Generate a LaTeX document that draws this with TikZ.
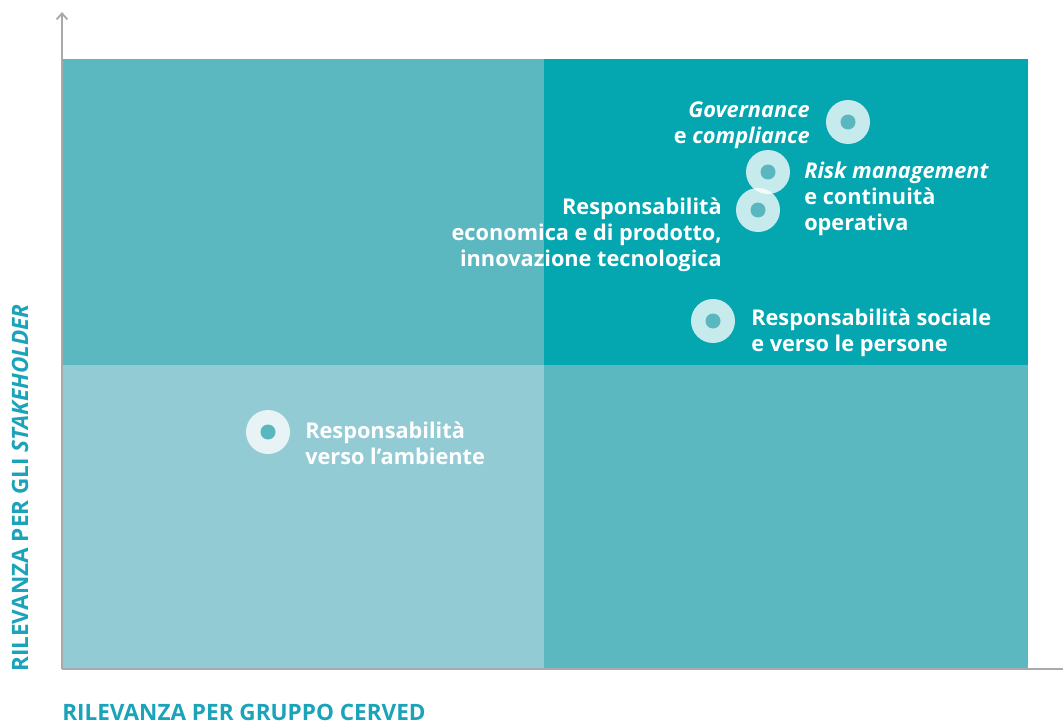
\documentclass[tikz,border=0pt]{standalone}
\usepackage{fontspec}
\setmainfont{Open Sans}
\usetikzlibrary{arrows.meta}
\definecolor{qTL}{HTML}{5BB7C0}
\definecolor{qTR}{HTML}{04A6B0}
\definecolor{qBL}{HTML}{93CBD4}
\definecolor{qBR}{HTML}{5BB7C0}
\definecolor{axisgray}{HTML}{A7A9AC}
\definecolor{axislabel}{HTML}{1BA3B9}
\definecolor{dotc}{HTML}{5BB7BF}
\newlength{\pxu}\setlength{\pxu}{0.75pt}
\tikzset{
  ring/.style={circle, fill=white, fill opacity=0.78, minimum size=44\pxu, inner sep=0pt},
  dot/.style={circle, fill=dotc, minimum size=15\pxu, inner sep=0pt},
  lab/.style={text=white, font=\fontsize{16.3}{19.5}\selectfont\bfseries, inner sep=0pt},
  axlab/.style={text=axislabel, font=\fontsize{16.9}{20}\selectfont\bfseries, inner sep=0pt},
  axisline/.style={draw=axisgray, line width=2pt},
}
\begin{document}
\begin{tikzpicture}[x=0.75pt, y=-0.75pt]
\useasboundingbox (0,0) rectangle (1063,724);
% quadrants
\fill[qTL] (62,59) rectangle (544,365);
\fill[qTR] (544,59) rectangle (1028,365);
\fill[qBL] (62,365) rectangle (544,669);
\fill[qBR] (544,365) rectangle (1028,669);
% axes
\coordinate (O) at (62,669);
\coordinate (Ytop) at (62,12);
\coordinate (Xend) at (1063,669);
\draw[axisline, -{Straight Barb[length=4.5pt, width=8pt, line width=1.4pt]}] (O) -- (Ytop);
\draw[axisline] (O) -- (Xend);
% axis labels
\node[axlab, anchor=base west] (xl) at (62,720) {RILEVANZA PER GRUPPO CERVED};
\node[axlab, anchor=base west, rotate=90] (yl) at (28,672) {RILEVANZA PER GLI \textit{STAKEHOLDER}};
% points
\node[ring] (g) at (848,122) {};
\node[dot] at (g) {};
\node[ring] (r) at (768,172) {};
\node[dot] at (r) {};
\node[ring] (e) at (758,210) {};
\node[dot] at (e) {};
\node[ring] (s) at (713,321) {};
\node[dot] at (s) {};
\node[ring] (a) at (268,432) {};
\node[dot] at (a) {};
% labels
\node[lab, align=right, anchor=north east] (gl) at (810,101) {\textit{Governance}\\e \textit{compliance}};
\node[lab, align=left, anchor=north west] (rl) at (804,162) {\textit{Risk management}\\e continuità\\operativa};
\node[lab, align=right, anchor=north east] (el) at (722,198) {Responsabilità\\economica e di prodotto,\\innovazione tecnologica};
\node[lab, align=left, anchor=north west] (sl) at (751,309) {Responsabilità sociale\\e verso le persone};
\node[lab, align=left, anchor=north west] (al) at (305,422) {Responsabilità\\verso l’ambiente};
\end{tikzpicture}
\end{document}
